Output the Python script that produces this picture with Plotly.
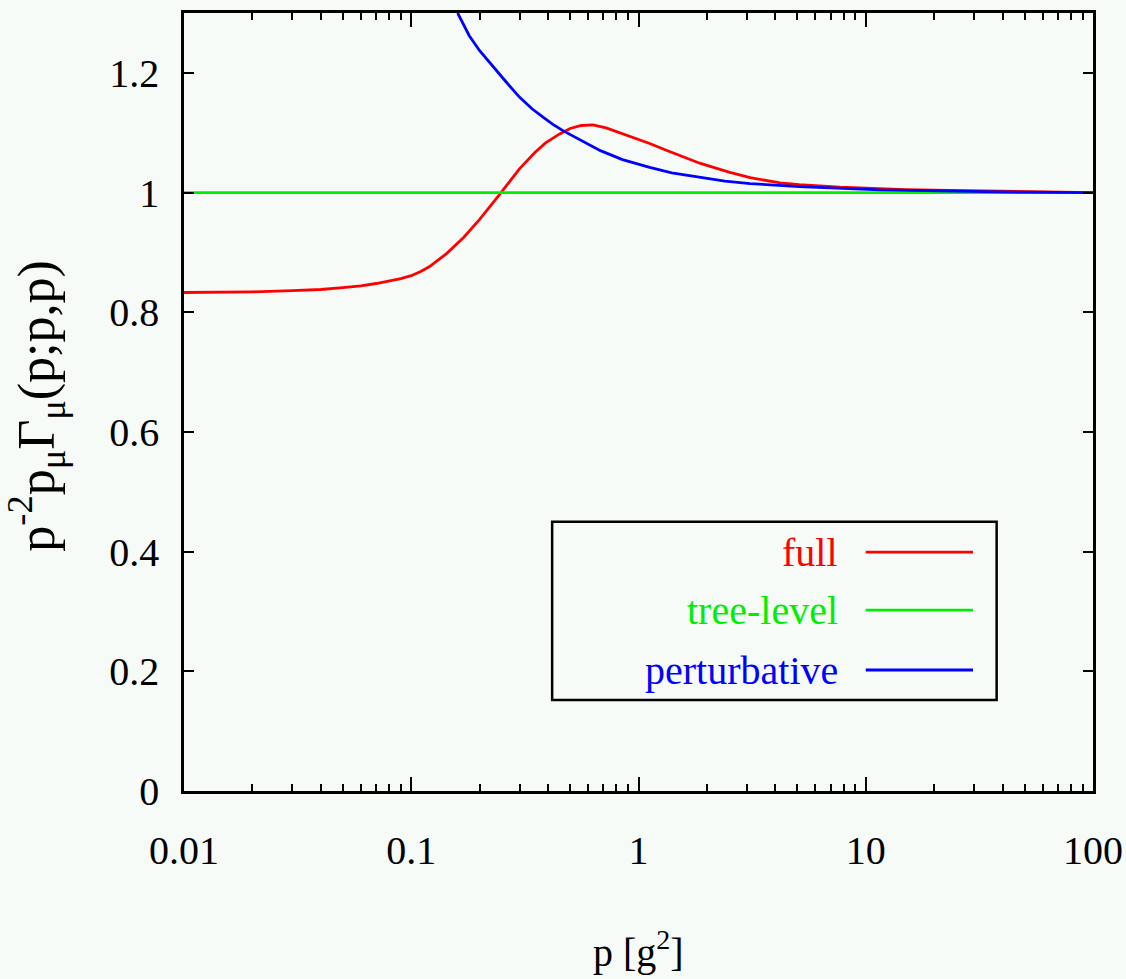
import plotly.graph_objects as go

# ---- data ----
p_full = [0.01, 0.02, 0.03, 0.04, 0.05, 0.06, 0.07, 0.08, 0.09, 0.1, 0.11, 0.12, 0.143, 0.17,
          0.2, 0.245, 0.3, 0.35, 0.39, 0.45, 0.5, 0.56, 0.63, 0.72, 0.83, 0.97, 1.12, 1.3, 1.5,
          1.86, 2.5, 3.1, 4.2, 5.1, 7.7, 10, 15, 20, 31.8, 50, 100]
v_full = [0.833, 0.834, 0.836, 0.838, 0.841, 0.844, 0.848, 0.852, 0.856, 0.861, 0.868, 0.876,
          0.898, 0.925, 0.955, 0.997, 1.04, 1.067, 1.083, 1.098, 1.107, 1.112, 1.113, 1.108,
          1.100, 1.091, 1.082, 1.072, 1.063, 1.049, 1.034, 1.025, 1.016, 1.013, 1.009, 1.007,
          1.005, 1.004, 1.003, 1.001, 1.0]

p_tree = [0.01, 100]
v_tree = [1.0, 1.0]

p_pert = [0.16, 0.17, 0.18, 0.20, 0.22, 0.238, 0.26, 0.30, 0.34, 0.38, 0.42, 0.467, 0.55,
          0.68, 0.85, 1.12, 1.4, 1.86, 2.4, 3.1, 5.1, 11.6, 20, 39, 100]
v_pert = [1.30, 1.28, 1.262, 1.237, 1.218, 1.203, 1.186, 1.159, 1.140, 1.126, 1.114, 1.103,
          1.088, 1.07, 1.055, 1.042, 1.033, 1.025, 1.019, 1.015, 1.01, 1.0045, 1.0025, 1.001, 1.0]

x_tickvals = [0.01, 0.1, 1, 10, 100]
x_ticktext = ["0.01", "0.1", "1", "10", "100"]
x_minorvals = [m * d for d in [0.01, 0.1, 1, 10] for m in range(2, 10)]
y_tickvals = [0, 0.2, 0.4, 0.6, 0.8, 1, 1.2]
y_ticktext = ["0", "0.2", "0.4", "0.6", "0.8", "1", "1.2"]

series_names = ["full", "tree-level", "perturbative"]
series_colors = ["#ff0000", "#00ee00", "#0000ff"]

FONT = "Liberation Serif, Times New Roman, serif"
BG = "#f7fbf8"

fig = go.Figure()
for name, xs, ys, col in zip(series_names, [p_full, p_tree, p_pert], [v_full, v_tree, v_pert], series_colors):
    fig.add_trace(go.Scatter(x=xs, y=ys, mode="lines", name=name,
                             line=dict(color=col, width=2.8), showlegend=False))

axis_common = dict(showline=True, linecolor="black", linewidth=2.5, mirror="allticks",
                   ticks="inside", tickcolor="black", tickwidth=2, showgrid=False, zeroline=False,
                   automargin=False,
                   tickfont=dict(family=FONT, size=40, color="black"))

fig.update_xaxes(type="log", range=[-2, 2], tickvals=x_tickvals, ticktext=x_ticktext,
                 ticklen=14, ticklabelstandoff=22,
                 minor=dict(tickvals=x_minorvals, ticks="inside", ticklen=7, tickcolor="black",
                            tickwidth=2, showgrid=False),
                 **axis_common)
fig.update_yaxes(range=[0, 1.3], tickvals=y_tickvals, ticktext=y_ticktext,
                 ticklen=10, ticklabelstandoff=14, **axis_common)

# ---- custom legend (text right-aligned, line sample on the right) ----
box = dict(x0=0.405, x1=0.894, y0=0.117, y1=0.346)
fig.add_shape(type="rect", xref="paper", yref="paper", line=dict(color="black", width=2.5),
              fillcolor=BG, layer="above", **box)
row_y = [0.307, 0.2326, 0.1555]
for name, col, yy in zip(series_names, series_colors, row_y):
    fig.add_annotation(xref="paper", yref="paper", x=0.7217, y=yy, xanchor="right", yanchor="middle",
                       text=name, showarrow=False, font=dict(family=FONT, size=40, color=col))
    fig.add_shape(type="line", xref="paper", yref="paper", x0=0.750, x1=0.868, y0=yy, y1=yy,
                  line=dict(color=col, width=2.8), layer="above")

# ---- axis titles ----
fig.add_annotation(xref="paper", yref="paper", x=-0.162, y=0.495, textangle=-90,
                   text="p<sup>-2</sup>p<sub>μ</sub>Γ<sub>μ</sub>(p;p,p)", showarrow=False,
                   xanchor="center", yanchor="middle", font=dict(family=FONT, size=52, color="black"))
fig.add_annotation(xref="paper", yref="paper", x=0.5, y=-0.204,
                   text="p [g<sup>2</sup>]", showarrow=False,
                   xanchor="center", yanchor="middle", font=dict(family=FONT, size=40, color="black"))

fig.update_layout(width=1126, height=979, margin=dict(l=184, r=33, t=13, b=188),
                  paper_bgcolor=BG, plot_bgcolor=BG, showlegend=False)

fig.write_html("out.html", config={"displayModeBar": False},
               post_script="document.body.style.margin='0';document.body.style.background='%s';" % BG)
